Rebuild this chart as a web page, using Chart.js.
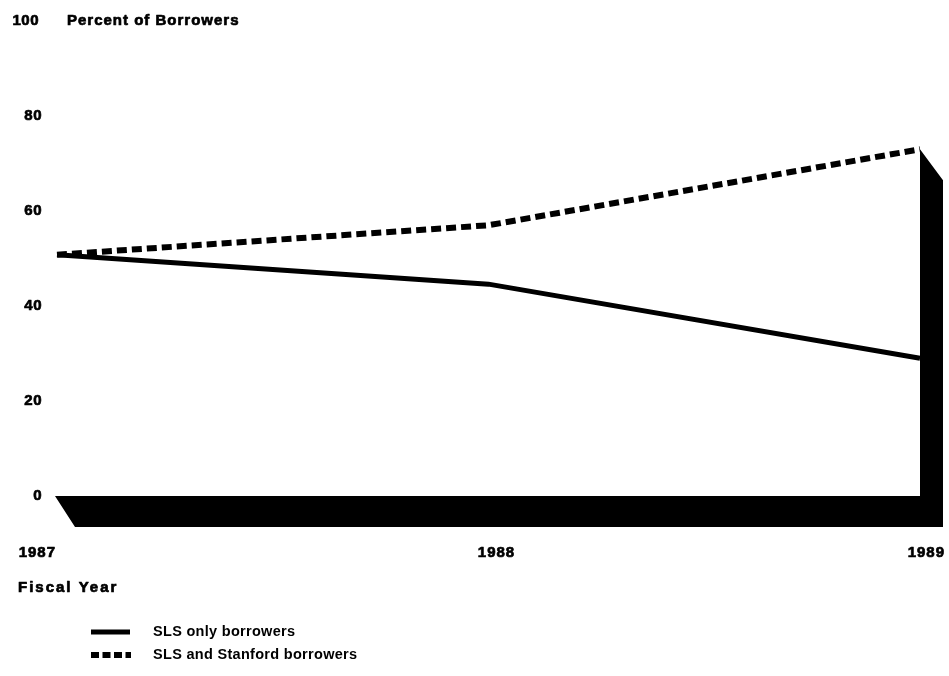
<!DOCTYPE html>
<html>
<head>
<meta charset="utf-8">
<script src="https://cdn.jsdelivr.net/npm/chart.js@4"></script>
<style>
  html, body { margin: 0; padding: 0; background: #fff; }
  #wrap { width: 949px; height: 676px; }
</style>
</head>
<body>
<div id="wrap"><canvas id="grafico" width="949" height="676"></canvas></div>
<script>
// datos
const anios = ["1987", "1988", "1989"];
const soloSLS = [50.8, 44.6, 29.0];
const slsYStafford = [50.8, 57.0, 73.0];
const ticksY = [0, 20, 40, 60, 80, 100];
const etiquetasSerie = ["SLS only borrowers", "SLS and Stanford borrowers"];

const FUENTE_EJE = "bold 15px 'Liberation Sans', Arial, sans-serif";
const FUENTE_LEYENDA = "bold 14.5px 'Liberation Sans', Arial, sans-serif";

// texto grueso, como el original escaneado
const textoGrueso = (ctx, txt, x, y, espacio) => {
  ctx.letterSpacing = espacio + "px";
  ctx.strokeText(txt, x, y);
  ctx.fillText(txt, x, y);
  ctx.letterSpacing = "0px";
};

// piso y pared negros (efecto 3D) y textos
const decoracion = {
  id: "decoracion",
  beforeDatasetsDraw(chart) {
    const { ctx, scales } = chart;
    const x0 = scales.x.getPixelForValue(0);
    const x1 = scales.x.getPixelForValue(anios.length - 1);
    const y0 = scales.y.getPixelForValue(0);
    const yTop = scales.y.getPixelForValue(slsYStafford[slsYStafford.length - 1]);
    const dx = 23, dy = 31;
    ctx.save();
    ctx.fillStyle = "#000";
    ctx.beginPath();
    ctx.moveTo(x0 - 2, y0);
    ctx.lineTo(x1, y0);
    ctx.lineTo(x1, yTop);
    ctx.lineTo(x1 + dx, yTop + dy);
    ctx.lineTo(x1 + dx, y0 + dy);
    ctx.lineTo(x0 + 18, y0 + dy);
    ctx.closePath();
    ctx.fill();
    ctx.restore();
  },
  afterDraw(chart) {
    const { ctx, scales } = chart;
    ctx.save();
    ctx.fillStyle = "#000";
    ctx.strokeStyle = "#000";
    ctx.lineWidth = 0.7;
    ctx.lineJoin = "round";
    ctx.textBaseline = "middle";
    ctx.font = FUENTE_EJE;
    // etiquetas del eje y
    ctx.textAlign = "right";
    ticksY.forEach((v) => {
      textoGrueso(ctx, String(v), v === 100 ? 39 : 42, scales.y.getPixelForValue(v), 0.5);
    });
    ctx.textAlign = "left";
    textoGrueso(ctx, "Percent of Borrowers", 67, scales.y.getPixelForValue(100), 1);
    // etiquetas de anios
    const yAnio = 553;
    ctx.textAlign = "right";
    textoGrueso(ctx, anios[0], scales.x.getPixelForValue(0) - 1, yAnio, 1);
    ctx.textAlign = "center";
    textoGrueso(ctx, anios[1], scales.x.getPixelForValue(1) + 8, yAnio, 1);
    ctx.textAlign = "right";
    textoGrueso(ctx, anios[2], scales.x.getPixelForValue(2) + 25, yAnio, 1);
    ctx.textAlign = "left";
    textoGrueso(ctx, "Fiscal Year", 18, 588, 2);
    // leyenda
    ctx.lineWidth = 5;
    ctx.beginPath();
    ctx.moveTo(91, 632);
    ctx.lineTo(130, 632);
    ctx.stroke();
    ctx.setLineDash([8, 3.5]);
    ctx.lineWidth = 6;
    ctx.beginPath();
    ctx.moveTo(91, 655);
    ctx.lineTo(131, 655);
    ctx.stroke();
    ctx.setLineDash([]);
    ctx.font = FUENTE_LEYENDA;
    ctx.letterSpacing = "0.3px";
    ctx.fillText(etiquetasSerie[0], 153, 632);
    ctx.fillText(etiquetasSerie[1], 153, 655);
    ctx.restore();
  },
};

const canvas2D = document.getElementById("grafico").getContext("2d");
const grafico = new Chart(canvas2D, {
  type: "line",
  data: {
    labels: anios,
    datasets: [
      {
        label: etiquetasSerie[0],
        data: soloSLS,
        borderColor: "#000",
        borderWidth: 5,
        pointRadius: 0,
        tension: 0,
      },
      {
        label: etiquetasSerie[1],
        data: slsYStafford,
        borderColor: "#000",
        borderWidth: 6,
        borderDash: [10, 5],
        pointRadius: 0,
        tension: 0,
      },
    ],
  },
  options: {
    responsive: false,
    animation: false,
    layout: { padding: { top: 21, right: 29, bottom: 180, left: 0 } },
    scales: {
      x: { display: false, offset: false },
      y: {
        min: 0,
        max: 100,
        afterFit: (scale) => { scale.width = 57; },
        afterBuildTicks: (scale) => { scale.ticks = ticksY.map((v) => ({ value: v })); },
        grid: { display: false },
        border: { display: false },
        ticks: { display: false },
      },
    },
    plugins: {
      legend: { display: false },
      tooltip: { enabled: false },
    },
  },
  plugins: [decoracion],
});
</script>
</body>
</html>
